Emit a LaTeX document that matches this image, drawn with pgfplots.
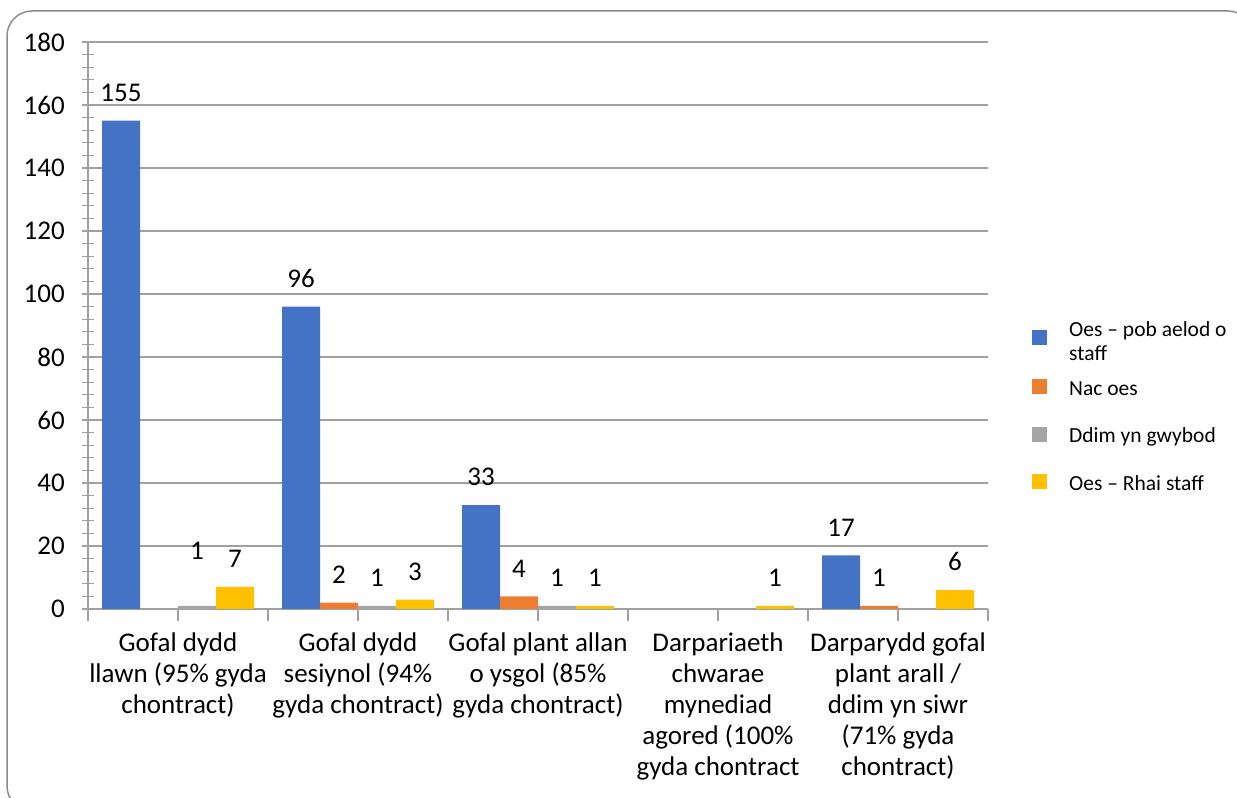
\documentclass[border=0pt]{standalone}
\usepackage{fontspec}
\setmainfont{Carlito}
\usepackage{pgfplots}
\pgfplotsset{compat=1.18}
\definecolor{cblue}{HTML}{4472C4}
\definecolor{corange}{HTML}{ED7D31}
\definecolor{cgray}{HTML}{A5A5A5}
\definecolor{cyellow}{HTML}{FFC000}
\definecolor{gridc}{HTML}{A0A0A0}
\definecolor{bordc}{HTML}{8C8C8C}
\newcommand{\bigf}{\fontsize{27bp}{31bp}\selectfont}
\newcommand{\legf}{\fontsize{21.5bp}{24bp}\selectfont}
\begin{document}
\begin{tikzpicture}
\useasboundingbox (0,0) rectangle (1237bp,798bp);
\draw[rounded corners=25bp, bordc, line width=1.5bp] (7bp,787bp) rectangle (1253bp,-13bp);
\begin{axis}[
  at={(88bp,189bp)}, anchor=south west,
  scale only axis, width=900bp, height=567bp,
  xmin=-0.5, xmax=4.5, ymin=0, ymax=180,
  ybar=0pt, bar width=38bp,
  axis lines*=left,
  axis line style={gridc, line width=1.3bp},
  ymajorgrids, grid style={gridc, line width=1.3bp},
  ytick={0,20,...,180}, minor y tick num=4,
  xtick={0,1,2,3,4},
  xticklabels={
    {Gofal dydd\\llawn (95\% gyda\\chontract)},
    {Gofal dydd\\sesiynol (94\%\\gyda chontract)},
    {Gofal plant allan\\o ysgol (85\%\\gyda chontract)},
    {Darpariaeth\\chwarae\\mynediad\\agored (100\%\\gyda chontract},
    {Darparydd gofal\\plant arall /\\ddim yn siwr\\(71\% gyda\\chontract)}},
  extra x ticks={-0.5,0.5,1.5,2.5,3.5,4.5},
  extra x tick labels={},
  xtick align=outside, ytick align=center,
  major tick length=12bp, minor tick length=12bp,
  tick style={gridc, line width=1.3bp},
  /pgf/number format/assume math mode=true,
  yticklabel style={font=\bigf, anchor=east, inner sep=0pt, xshift=-17bp},
  xticklabel style={font=\bigf, align=center, anchor=north, inner sep=0pt, yshift=-12bp},
  nodes near coords,
  nodes near coords style={font=\bigf, inner sep=0pt, yshift=19bp, text=black},
  legend image code/.code={\fill[#1] (0bp,1bp) rectangle (15bp,16bp);},
  legend style={at={(1.0489,0.5115)}, anchor=north west, draw=none, fill=none,
    inner sep=0pt, row sep=27bp, font=\legf,
    cells={anchor=base west, align=left},
    /tikz/every odd column/.append style={column sep=20bp}},
]
\addplot[fill=cblue, draw=none, legend image post style={yshift=-10bp}] coordinates {(0,155) (1,96) (2,33) (4,17)};
\addplot[fill=corange, draw=none] coordinates {(1,2) (2,4) (4,1)};
\addplot[fill=cgray, draw=none,
  visualization depends on={x \as \xv},
  nodes near coords style={yshift={27bp*(\xv<0.5)}}] coordinates {(0,1) (1,1) (2,1)};
\addplot[fill=cyellow, draw=none] coordinates {(0,7) (1,3) (2,1) (3,1) (4,6)};
\legend{{\rule[-5bp]{0pt}{20bp}\smash{\begin{tabular}[t]{@{}l@{}}Oes – pob aelod o\\staff\end{tabular}}},
  {\rule[-5bp]{0pt}{26bp}Nac oes},
  {\rule[-5bp]{0pt}{20bp}Ddim yn gwybod},
  {\rule[-5bp]{0pt}{18bp}Oes – Rhai staff}}
\end{axis}
\end{tikzpicture}
\end{document}
